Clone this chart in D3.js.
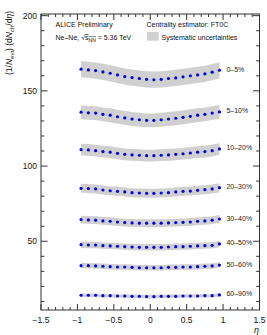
<!DOCTYPE html>
<html>
<head>
<meta charset="utf-8">
<script src="https://cdn.jsdelivr.net/npm/d3@7"></script>
<style>
  body { margin: 0; background: #fff; }
  svg { display: block; font-family: "Liberation Sans", Arial, sans-serif; }
</style>
</head>
<body>
<svg id="chart" width="267" height="335"></svg>
<script>
// pseudorapidity bin centres
const eta = [-0.95, -0.85, -0.75, -0.65, -0.55, -0.45, -0.35, -0.25, -0.15, -0.05,
             0.05, 0.15, 0.25, 0.35, 0.45, 0.55, 0.65, 0.75, 0.85, 0.95];

const classes = ["0–5%", "5–10%", "10–20%", "20–30%", "30–40%", "40–50%", "50–60%", "60–90%"];

// dN/deta per centrality class
const c0_5   = [164.4, 163.9, 163.5, 162.6, 161.7, 160.6, 159.5, 158.8, 158.2, 157.7,
                157.4, 157.7, 158.2, 158.6, 159.3, 160.0, 160.6, 161.3, 162.4, 163.7];
const c5_10  = [135.8, 135.4, 135.2, 134.4, 133.8, 132.8, 132.0, 131.3, 130.8, 130.4,
                130.4, 130.8, 131.3, 131.8, 132.4, 133.1, 133.8, 134.4, 135.2, 136.0];
const c10_20 = [110.9, 110.7, 110.2, 109.6, 109.2, 108.5, 107.8, 107.4, 107.2, 106.9,
                106.9, 107.2, 107.4, 107.8, 108.2, 108.7, 109.2, 109.6, 110.2, 111.4];
const c20_30 = [85.2, 85.0, 84.8, 84.1, 83.6, 83.2, 82.8, 82.3, 82.1, 81.9,
                81.9, 82.1, 82.3, 82.8, 83.2, 83.4, 83.9, 84.3, 84.8, 85.6];
const c30_40 = [64.4, 64.2, 64.0, 63.5, 63.3, 62.8, 62.4, 62.2, 62.0, 62.0,
                62.0, 62.0, 62.2, 62.4, 62.6, 62.8, 63.3, 63.5, 64.0, 64.8];
const c40_50 = [47.7, 47.5, 47.5, 47.1, 46.9, 46.7, 46.4, 46.2, 46.0, 46.0,
                46.0, 46.0, 46.2, 46.4, 46.4, 46.7, 46.9, 47.1, 47.3, 48.2];
const c50_60 = [33.8, 33.8, 33.6, 33.4, 33.1, 32.9, 32.9, 32.7, 32.4, 32.4,
                32.4, 32.4, 32.7, 32.7, 32.9, 32.9, 33.1, 33.4, 33.6, 34.2];
const c60_90 = [14.1, 14.1, 14.1, 13.8, 13.8, 13.6, 13.6, 13.4, 13.4, 13.2,
                13.2, 13.4, 13.4, 13.4, 13.6, 13.6, 13.6, 13.8, 13.8, 14.3];

// systematic half-width per class
const sysErr = [5.4, 4.6, 3.9, 3.0, 2.6, 2.1, 1.8, 1.2];

const xTicks = [-1.5, -1, -0.5, 0, 0.5, 1, 1.5];
const yTicks = [50, 100, 150, 200];

const series = [c0_5, c5_10, c10_20, c20_30, c30_40, c40_50, c50_60, c60_90];

const svg = d3.select("#chart");
const pLeft = 41, pRight = 259.5, pTop = 14, pBottom = 310;

const x = d3.scaleLinear().domain([-1.5, 1.5]).range([pLeft, pRight]);
const y = d3.scaleLinear().domain([4.3, 201.1]).range([pBottom, pTop]);

// bands
const band = d3.area()
  .x((d, i) => x(eta[i]))
  .y0(d => y(d.v - d.e))
  .y1(d => y(d.v + d.e));

series.forEach((vals, k) => {
  svg.append("path")
    .datum(vals.map(v => ({ v: v, e: sysErr[k] })))
    .attr("d", band)
    .attr("fill", "#d0d0d0");
});

// points
series.forEach((vals, k) => {
  svg.append("g")
    .selectAll("circle")
    .data(vals)
    .join("circle")
    .attr("cx", (d, i) => x(eta[i]))
    .attr("cy", d => y(d))
    .attr("r", 1.6)
    .attr("fill", "#0000e6");

  svg.append("text")
    .attr("x", x(0.95) + 7)
    .attr("y", y(vals[vals.length - 1]) + 1.5)
    .attr("font-size", 7)
    .attr("fill", "#222")
    .text(classes[k]);
});

// frame + ticks (ROOT style, inward, mirrored)
const ax = svg.append("g").attr("stroke", "#333").attr("stroke-width", 1);
ax.append("rect")
  .attr("x", pLeft).attr("y", pTop)
  .attr("width", pRight - pLeft).attr("height", pBottom - pTop)
  .attr("fill", "none");

const xMinor = d3.range(-15, 16).map(v => v / 10);
xMinor.forEach(v => {
  const major = Math.abs(v * 2 - Math.round(v * 2)) < 1e-6;
  const len = major ? 6 : 3;
  ax.append("line").attr("x1", x(v)).attr("x2", x(v)).attr("y1", pBottom).attr("y2", pBottom - len);
  ax.append("line").attr("x1", x(v)).attr("x2", x(v)).attr("y1", pTop).attr("y2", pTop + len);
});

const yMinor = d3.range(10, 201, 10);
yMinor.forEach(v => {
  const major = v % 50 === 0;
  const len = major ? 6.5 : 3.3;
  ax.append("line").attr("x1", pLeft).attr("x2", pLeft + len).attr("y1", y(v)).attr("y2", y(v));
  ax.append("line").attr("x1", pRight).attr("x2", pRight - len).attr("y1", y(v)).attr("y2", y(v));
});

// tick labels
svg.append("g").selectAll("text")
  .data(xTicks)
  .join("text")
  .attr("x", d => x(d))
  .attr("y", 323)
  .attr("text-anchor", "middle")
  .attr("font-size", 8.5)
  .attr("fill", "#111")
  .text(d => d3.format("")(d).replace("-", "−"));

svg.append("g").selectAll("text")
  .data(yTicks)
  .join("text")
  .attr("x", 37)
  .attr("y", d => y(d) + 3)
  .attr("text-anchor", "end")
  .attr("font-size", 8.5)
  .attr("fill", "#111")
  .text(d => d);

// axis titles
svg.append("text")
  .attr("x", 259)
  .attr("y", 333)
  .attr("text-anchor", "end")
  .attr("font-size", 9)
  .attr("font-style", "italic")
  .attr("fill", "#111")
  .text("η");

const yt = svg.append("text")
  .attr("transform", "translate(11.5,11) rotate(-90)")
  .attr("text-anchor", "end")
  .attr("font-size", 8.5)
  .attr("fill", "#111");
yt.append("tspan").text("(1/");
yt.append("tspan").attr("font-style", "italic").text("N");
yt.append("tspan").attr("font-size", 6).attr("dy", 2).text("evt");
yt.append("tspan").attr("dy", -2).text(") (d");
yt.append("tspan").attr("font-style", "italic").text("N");
yt.append("tspan").attr("font-size", 6).attr("dy", 2).text("ch");
yt.append("tspan").attr("dy", -2).text("/d");
yt.append("tspan").attr("font-style", "italic").text("η");
yt.append("tspan").text(")");

// annotations
svg.append("text")
  .attr("x", 55.5).attr("y", 27)
  .attr("font-size", 7).attr("fill", "#111")
  .text("ALICE Preliminary");

const sys = svg.append("text")
  .attr("x", 55.5).attr("y", 40)
  .attr("font-size", 7).attr("fill", "#111");
sys.append("tspan").text("Ne–Ne, √");
sys.append("tspan").attr("text-decoration", "overline").text("s");
sys.append("tspan").attr("font-size", 5).attr("dy", 1.5).attr("text-decoration", "overline").text("NN");
sys.append("tspan").attr("dy", -1.5).text(" = 5.36 TeV");

svg.append("text")
  .attr("x", 146.5).attr("y", 27)
  .attr("font-size", 7).attr("fill", "#111")
  .text("Centrality estimator: FT0C");

svg.append("rect")
  .attr("x", 147).attr("y", 32)
  .attr("width", 11.7).attr("height", 8.7)
  .attr("fill", "#d0d0d0");

svg.append("text")
  .attr("x", 161.5).attr("y", 39.5)
  .attr("font-size", 7).attr("fill", "#111")
  .text("Systematic uncertainties");
</script>
</body>
</html>
